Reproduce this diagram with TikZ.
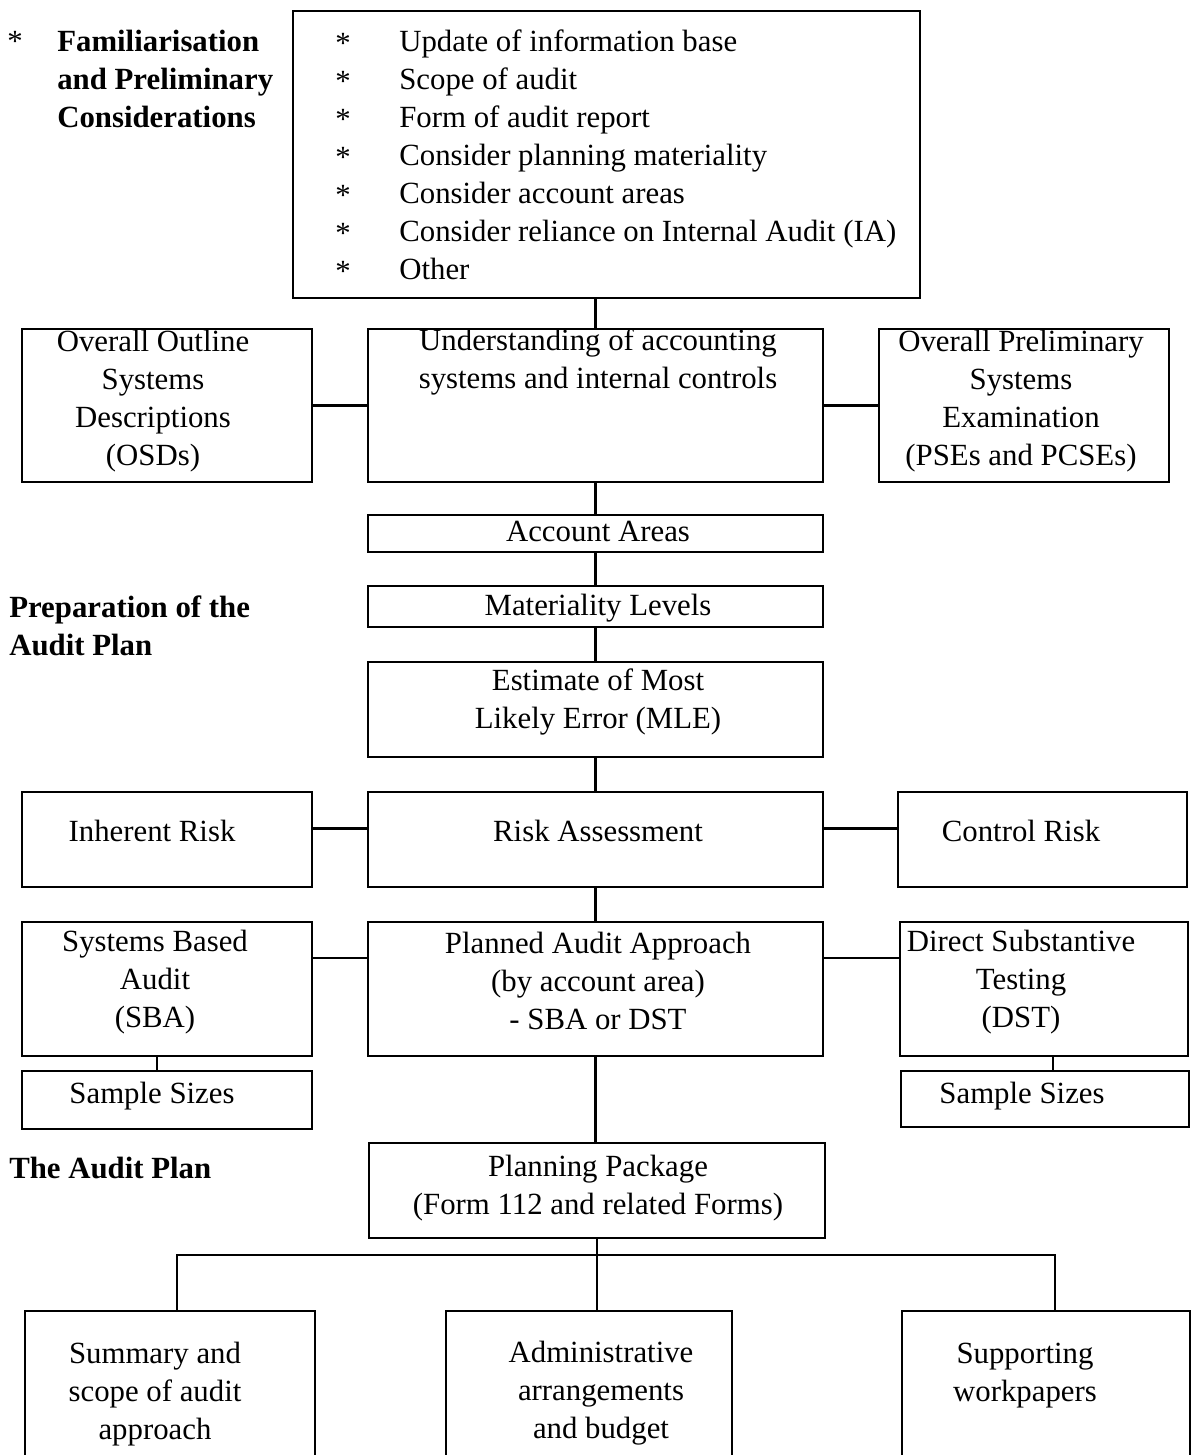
\documentclass[tikz,border=0pt]{standalone}
\usepackage{fontspec}
\setmainfont{Liberation Serif}
\begin{document}
\begin{tikzpicture}[x=0.5pt, y=-0.5pt, line width=1.3pt,
    every node/.style={font=\fontsize{15.4}{19}\selectfont, inner sep=0pt},
    box/.style 2 args={draw, minimum width=#1*0.5pt, minimum height=#2*0.5pt},
    lbl/.style={font=\fontsize{15.4}{19}\selectfont\bfseries, align=left}]
  \useasboundingbox (0,0) rectangle (1197,1455);
  \clip (0,0) rectangle (1197,1455);

  % Familiarisation
  \node[anchor=base] (star) at (15,52) {*};
  \node[lbl, anchor=north west] (famlbl) at (56,29) {Familiarisation\\and Preliminary\\Considerations};
  \node[box={627}{287}] (top) at (606.5,154.5) {};
  \node[anchor=north, align=center] (stars) at (343,32) {*\\*\\*\\*\\*\\*\\*};
  \node[anchor=north west, align=left] (items) at (398,29) {Update of information base\\Scope of audit\\Form of audit report\\Consider planning materiality\\Consider account areas\\Consider reliance on Internal Audit (IA)\\Other};

  % Systems
  \node[box={290}{153}] (osd) at (167,405.5) {};
  \node[align=center] (osdtxt) at (153,401) {Overall Outline\\Systems\\Descriptions\\(OSDs)};
  \node[box={455}{153}] (usc) at (595.5,405.5) {};
  \node[align=center] (usctxt) at (598,362) {Understanding of accounting\\systems and internal controls};
  \node[box={290}{153}] (pse) at (1024,405.5) {};
  \node[align=center] (psetxt) at (1021,401) {Overall Preliminary\\Systems\\Examination\\(PSEs and PCSEs)};

  % Preparation of the plan
  \node[lbl, anchor=west] (preplbl) at (8,626) {Preparation of the\\Audit Plan};
  \node[box={455}{37}] (areas) at (595.5,533.5) {};
  \node (areastxt) at (598,531) {Account Areas};
  \node[box={455}{41}] (matl) at (595.5,606.5) {};
  \node (matltxt) at (598,608) {Materiality Levels};
  \node[box={455}{95}] (mle) at (595.5,709.5) {};
  \node[align=center] (mletxt) at (598,702) {Estimate of Most\\Likely Error (MLE)};

  % Risk
  \node[box={290}{95}] (inh) at (167,839.5) {};
  \node (inhtxt) at (152,831) {Inherent Risk};
  \node[box={455}{95}] (risk) at (595.5,839.5) {};
  \node (risktxt) at (598,831) {Risk Assessment};
  \node[box={289}{95}] (ctl) at (1042.5,839.5) {};
  \node (ctltxt) at (1021,831) {Control Risk};

  % Approach
  \node[box={290}{134}] (sba) at (167,989) {};
  \node[align=center] (sbatxt) at (155,982) {Systems Based\\Audit\\(SBA)};
  \node[box={455}{134}] (appr) at (595.5,989) {};
  \node[align=center] (apprtxt) at (598,981) {Planned Audit Approach\\(by account area)\\- SBA or DST};
  \node[box={288}{134}] (dst) at (1044,989) {};
  \node[align=center] (dsttxt) at (1021,982) {Direct Substantive\\Testing\\(DST)};
  \node[box={290}{58}] (sizl) at (167,1100) {};
  \node (sizltxt) at (152,1096) {Sample Sizes};
  \node[box={288}{56}] (sizr) at (1045,1099) {};
  \node (sizrtxt) at (1022,1096) {Sample Sizes};

  % The plan
  \node[lbl, anchor=west] (planlbl) at (8,1168) {The Audit Plan};
  \node[box={456}{95}] (pack) at (597,1190.5) {};
  \node[align=center] (packtxt) at (598,1188) {Planning Package\\(Form 112 and related Forms)};
  \node[box={290}{159}] (sum) at (170,1390.5) {};
  \node[align=center] (sumtxt) at (155,1394) {Summary and\\scope of audit\\approach};
  \node[box={286}{159}] (adm) at (589,1390.5) {};
  \node[align=center] (admtxt) at (601,1393) {Administrative\\arrangements\\and budget};
  \node[box={288}{159}] (wrk) at (1046,1390.5) {};
  \node[align=center] (wrktxt) at (1025,1376) {Supporting\\workpapers};

  % Links
  \draw (usc.north) -- (usc.north |- top.south);
  \draw (osd.east) -- (usc.west);
  \draw (usc.east) -- (pse.west);
  \draw (usc.south) -- (areas.north);
  \draw (areas.south) -- (matl.north);
  \draw (matl.south) -- (mle.north);
  \draw (mle.south) -- (risk.north);
  \draw ([yshift=5.5pt]inh.east) -- ([yshift=5.5pt]risk.west);
  \draw ([yshift=5.5pt]risk.east) -- ([yshift=5.5pt]ctl.west);
  \draw (risk.south) -- (appr.north);
  \draw ([yshift=15.5pt]sba.east) -- ([yshift=15.5pt]appr.west);
  \draw ([yshift=15.5pt]appr.east) -- ([yshift=15.5pt]dst.west);
  \draw ([xshift=-5pt]sba.south) -- ([xshift=-5pt]sba.south |- sizl.north);
  \draw ([xshift=4.5pt]dst.south) -- ([xshift=4.5pt]dst.south |- sizr.north);
  \draw (appr.south) -- (appr.south |- pack.north);
  \coordinate (fork) at (597,1255);
  \draw (pack.south) -- (pack.south |- adm.north);
  \draw ([xshift=3.5pt]sum.north) |- (fork) -| ([xshift=4.5pt]wrk.north);
\end{tikzpicture}
\end{document}
